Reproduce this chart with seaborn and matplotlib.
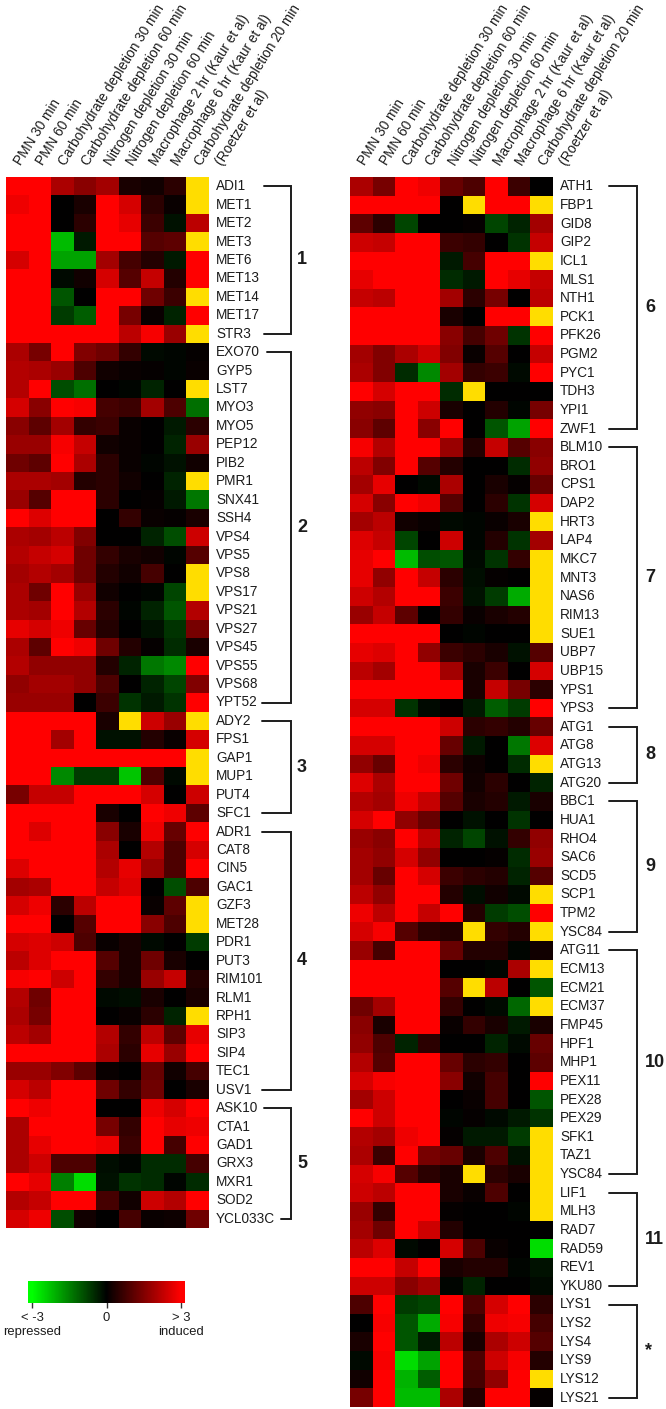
import numpy as np
import seaborn as sns
import matplotlib.pyplot as plt
from matplotlib.colors import LinearSegmentedColormap
from matplotlib.transforms import ScaledTranslation, blended_transform_factory

sns.set_theme(style='white')
plt.rcParams['font.family'] = ['Liberation Sans', 'DejaVu Sans']

W, H = 666, 1409
Y = np.nan  # yellow cells, no data

conditions = ['PMN 30 min', 'PMN 60 min', 'Carbohydrate depletion 30 min', 'Carbohydrate depletion 60 min',
              'Nitrogen depletion 30 min', 'Nitrogen depletion 60 min', 'Macrophage 2 hr (Kaur et al)',
              'Macrophage 6 hr (Kaur et al)', 'Carbohydrate depletion 20 min']
last_condition_note = '(Roetzer et al)'

genes_left = ['ADI1', 'MET1', 'MET2', 'MET3', 'MET6', 'MET13', 'MET14', 'MET17', 'STR3',
              'EXO70', 'GYP5', 'LST7', 'MYO3', 'MYO5', 'PEP12', 'PIB2', 'PMR1', 'SNX41', 'SSH4',
              'VPS4', 'VPS5', 'VPS8', 'VPS17', 'VPS21', 'VPS27', 'VPS45', 'VPS55', 'VPS68', 'YPT52',
              'ADY2', 'FPS1', 'GAP1', 'MUP1', 'PUT4', 'SFC1',
              'ADR1', 'CAT8', 'CIN5', 'GAC1', 'GZF3', 'MET28', 'PDR1', 'PUT3', 'RIM101', 'RLM1', 'RPH1',
              'SIP3', 'SIP4', 'TEC1', 'USV1',
              'ASK10', 'CTA1', 'GAD1', 'GRX3', 'MXR1', 'SOD2', 'YCL033C']

values_left = [
    [3, 3, 2, 1.6, 1.9, 0.3, 0.2, 0.5, Y],
    [2.8, 3, 0, 0.3, 3, 2.5, 0.5, 0.1, Y],
    [3, 3, 0, 0.5, 3, 2.7, 0.7, -0.2, 2.2],
    [3, 3, -2.2, -0.3, 3, 3, 1.0, 1.1, Y],
    [2.5, 3, -1.9, -1.9, 1.9, 0.8, 0.4, -0.3, 3],
    [3, 3, -0.1, 0.2, 2.5, 1, 2.3, 0.4, 3],
    [3, 3, -1, 0, 3, 3, 1.3, 0.7, Y],
    [3, 3, -0.7, -1.1, 3, 1.4, 0.1, -0.4, 3],
    [3, 3, 3, 3, 3, 2.2, 2.9, 1.8, Y],
    [2, 1.4, 3, 1.5, 1.3, 0.6, -0.1, -0.05, 0.05],
    [2.1, 2.0, 1.8, 0.9, 0.2, 0.1, 0.05, -0.05, 0.1],
    [2.1, 3, -0.9, -1.3, 0, -0.05, -0.4, 0, Y],
    [2.5, 1.6, 3, 2.9, 0.8, 0.7, 1.9, 0.9, -1.3],
    [1.6, 1.1, 1.9, 0.6, 0.7, 0.1, 0, -0.3, 0.5],
    [1.8, 1.8, 2.9, 2.3, 0.2, 0.1, 0, -0.4, 1.8],
    [1.3, 1.1, 3, 2.0, 0.5, 0.1, -0.05, -0.2, 0.2],
    [2, 2, 1.9, 0.4, 0.5, 0.2, 0, -0.4, Y],
    [1.8, 1, 3, 3, 0.5, 0, 0.05, -0.3, -1.4],
    [3, 2.6, 3, 3, 0, 0.6, 0.1, 0.05, 0.3],
    [2, 1.9, 2.2, 1.5, 0, 0, -0.4, -0.9, 2.4],
    [2.1, 2.3, 2.5, 1.3, 0.6, 0.3, 0.2, -0.05, 1],
    [1.9, 2.1, 1.9, 1.3, 0.4, 0.2, 0.8, 0, Y],
    [2, 1.3, 3, 1.8, 0.2, 0, -0.05, -0.8, Y],
    [2, 1.9, 3, 2.1, 0.5, -0.05, -0.4, -1, 2.1],
    [2.7, 2.5, 2.8, 1.2, 0.4, 0, -0.2, -0.6, 1.4],
    [2, 1.1, 3, 2.8, 1.3, 0.4, 0.05, -0.5, 0.3],
    [2.1, 1.7, 1.7, 1.7, 0.4, -0.4, -1.4, -1.6, 3],
    [1.7, 1.9, 1.9, 1.7, 0.9, 0, -0.4, -0.8, 1.5],
    [1.8, 1.8, 1.8, 0, 0.7, -0.6, -0.3, -0.6, 3],
    [3, 3, 3, 3, 0.3, Y, 2.4, 1.8, Y],
    [3, 3, 1.9, 3, -0.2, -0.2, 0.4, 0.1, 2.5],
    [3, 3, 3, 3, 3, 3, 3, 3, Y],
    [3, 3, -1.6, -0.7, -0.7, -2.3, 0.9, -0.1, Y],
    [1.4, 2.3, 2.3, 3, 3, 3, 2.5, 0, 2.4],
    [3, 3, 3, 3, 0.3, 0, 3, 2.8, 1.1],
    [3, 2.6, 3, 3, 1.6, 0.3, 2.8, 1.2, 3],
    [3, 3, 3, 3, 2, 0, 2.1, 0.9, 2.5],
    [2.6, 3, 3, 3, 2.1, 2.7, 1.8, 0.9, 3],
    [1.9, 2.0, 3, 3, 2.3, 2.6, 0, -0.9, 0.9],
    [2.5, 2.8, 0.5, 2.2, 3, 3, 0.1, 1.1, Y],
    [3, 3, 0, 1, 3, 3, 1.6, 0.9, Y],
    [2.5, 2.6, 2.4, 0.9, 0.1, 0.3, -0.1, 0, -0.7],
    [2.2, 2.6, 3, 3, 1, 0.3, 1.3, 0.3, 0],
    [2.9, 3, 2.4, 3, 0.6, 0.3, 1.8, 2.3, 0.4],
    [2.1, 1.3, 3, 3, -0.1, -0.15, 0.3, 0, 0.3],
    [2, 1.4, 3, 3, 0, 0.1, 0.5, -0.4, Y],
    [2.2, 1.9, 3, 3, 2.1, 0.6, 2.2, 1.1, 2.7],
    [3, 3, 3, 3, 2, 0.5, 2.7, 1.8, 3],
    [1.8, 1.8, 1.5, 1.1, 0.1, 0, 1.2, 0.2, 0.8],
    [2.5, 2.2, 3, 3, 1.3, 0.6, 1.3, 0, 0.3],
    [3, 2.8, 3, 3, 0, 0, 2.8, 2.5, 3],
    [2, 3, 3, 3, 1.4, 0.6, 3, 2.7, 2.8],
    [2, 2.7, 3, 3, 2.8, 0.7, 3, 0.8, 3],
    [2, 2.4, 0.9, 0.9, -0.15, -0.05, -0.5, -0.5, 0.8],
    [3, 2.7, -1.5, -2.6, -0.2, -0.6, -0.5, -0.05, -0.5],
    [2.1, 2.3, 3, 3, 0.8, 0.2, 2.4, 2.1, 3],
    [2.5, 2.8, -0.9, 0.2, 0, 0.8, 0.1, 0.15, 1.3],
]

genes_right = ['ATH1', 'FBP1', 'GID8', 'GIP2', 'ICL1', 'MLS1', 'NTH1', 'PCK1', 'PFK26', 'PGM2', 'PYC1', 'TDH3',
               'YPI1', 'ZWF1',
               'BLM10', 'BRO1', 'CPS1', 'DAP2', 'HRT3', 'LAP4', 'MKC7', 'MNT3', 'NAS6', 'RIM13', 'SUE1', 'UBP7',
               'UBP15', 'YPS1', 'YPS3',
               'ATG1', 'ATG8', 'ATG13', 'ATG20',
               'BBC1', 'HUA1', 'RHO4', 'SAC6', 'SCD5', 'SCP1', 'TPM2', 'YSC84',
               'ATG11', 'ECM13', 'ECM21', 'ECM37', 'FMP45', 'HPF1', 'MHP1', 'PEX11', 'PEX28', 'PEX29', 'SFK1',
               'TAZ1', 'YSC84',
               'LIF1', 'MLH3', 'RAD7', 'RAD59', 'REV1', 'YKU80',
               'LYS1', 'LYS2', 'LYS4', 'LYS9', 'LYS12', 'LYS21']

values_right = [
    [2, 1.4, 3, 2.8, 1.2, 0.9, 3, 0.7, 0],
    [3, 3, 3, 3, 0, Y, 3, 3, Y],
    [1.1, 0.5, -0.8, 0, 0, 0.05, -0.8, -0.4, 1.9],
    [2.4, 2.3, 3, 3, 0.7, 0.6, 0, -0.6, 2.3],
    [3, 3, 3, 3, -0.3, 0.8, 3, 3, Y],
    [2.7, 3, 3, 3, -0.5, -0.3, 3, 2.7, 2.3],
    [2.3, 2.2, 3, 3, 1.9, 0.5, 1.4, 0, 2.2],
    [3, 3, 3, 3, 0.3, 0, 3, 3, Y],
    [3, 3, 3, 3, 1.6, 0.8, 1.3, -0.6, 3],
    [1.9, 1.5, 2, 2.4, 1.5, 0.1, 1, 0, 2.3],
    [2, 1.5, -0.5, -1.6, 1.9, 0.6, 0.7, -0.1, 3],
    [3, 2.5, 3, 3, -0.5, Y, 0, 0, 0],
    [1.7, 1.6, 3, 2.4, 0.3, 0, 0.4, -0.05, 1.4],
    [1.6, 1.1, 3, 1.6, 3, 0, -1, -1.9, 3],
    [2.9, 2.1, 3, 3, 1.8, 0.4, 2.3, 1.0, 1.6],
    [2.2, 1.5, 3, 1, 0.4, 0, 0, -0.5, 1.7],
    [1.9, 2.7, 0, -0.1, 2, 0, 0.3, 0.05, 1.2],
    [2.5, 1.6, 3, 2.8, 1, 0, 0.5, -0.6, 2.5],
    [1.9, 2.2, 0.2, 0.1, -0.1, -0.05, 0.1, 0.3, Y],
    [2.6, 2.3, -0.8, 0, 2.4, -0.05, 0.4, -0.6, 1.9],
    [2.7, 3, -2.2, -0.9, -1, -0.1, -0.6, 0.6, Y],
    [2.7, 1.7, 3, 2.3, 0.5, -0.15, 0.05, 0.02, Y],
    [2.4, 2.1, 3, 3, 0.7, -0.2, -0.7, -2, Y],
    [1.8, 2.3, 1.1, 0, 0.6, 0.1, 0.3, 0.4, Y],
    [3, 3, 3, 3, 0, -0.05, 0, 0, Y],
    [2.7, 2.6, 3, 1.7, 0.7, 0.5, 0.3, -0.2, 1.0],
    [2.2, 1.9, 3, 3, 1.9, 0.3, 0.7, 0, 2.5],
    [3, 3, 3, 3, 3, 0.3, 2.3, 1.4, 0.5],
    [2.5, 2.5, -0.6, -0.1, 0, -0.3, -1.1, -0.7, 3],
    [3, 3, 3, 3, 2.4, 0.5, 0.6, 0.4, 1.2],
    [2.5, 2.5, 3, 3, 1.2, -0.3, 0, -1.4, 2.6],
    [1.7, 1.2, 3, 2.8, 0.5, 0.15, 0, -0.5, Y],
    [2.6, 2.0, 3, 3, 1.3, 0.2, 0.5, 0, -0.4],
    [2.1, 1.9, 2.8, 2.3, 1, 0.3, 0.4, -0.3, 0.3],
    [2.5, 3, 1.7, 1.2, 0, -0.2, 0, -0.6, 0],
    [1.8, 1.6, 3, 2.2, -0.4, -0.8, -0.2, 0.6, 1.7],
    [1.9, 1.7, 2.5, 1.7, 0, 0, 0.05, -0.5, 1.8],
    [1.9, 1.2, 3, 2.5, 0.7, 0.5, 0.4, -0.4, 1.0],
    [2.2, 1.7, 3, 3, 0.4, -0.15, 0.2, -0.1, Y],
    [2.8, 2.2, 3, 2.3, 3, 0.4, -0.7, -0.9, 3],
    [2.5, 2.9, 1.0, 0.5, 0.4, Y, 0.6, 0.4, Y],
    [1.8, 0.8, 3, 3, 1.2, 0.4, 0.4, -0.05, 0.2],
    [3, 3, 3, 3, 0, 0, -0.05, 2, Y],
    [3, 3, 3, 3, 1, Y, 2.2, 0, -1],
    [1.3, 1.9, 3, 3, 0.6, 0, -0.1, -1.2, Y],
    [1.6, 0.3, 3, 3, 0.1, 0.6, 0.3, -0.3, 0.3],
    [1.7, 0.9, -0.4, 0.5, 0, 0, -0.4, -0.1, 1.2],
    [2.1, 1, 3, 3, 1.2, 0.5, 0.6, 0, 1.1],
    [2.5, 2.9, 3, 3, 1.6, 0.2, 0.8, 0, 3],
    [1.9, 2.4, 3, 3, 0, 0.1, 0.8, 0, -1],
    [3, 2.4, 3, 3, -0.05, 0.05, -0.1, -0.3, -0.6],
    [2.1, 1.9, 2.8, 3, 0.05, -0.3, -0.3, -0.7, Y],
    [2, 0.7, 3, 1.4, 1.2, 0.3, 0.9, -0.2, Y],
    [2.5, 2.9, 1.0, 0.5, 0.3, Y, 0.5, 0.3, Y],
    [2.4, 2.2, 3, 3, 0.3, 0.1, 0.9, 0, Y],
    [1.8, 0.6, 3, 3, 0.05, 0, 0, -0.05, Y],
    [1.9, 1.3, 3, 2.4, 0.4, 0, 0, 0, 0],
    [2.2, 2.6, -0.1, 0, 2.5, 0.9, 0.1, 0, -2.6],
    [3, 3, 2.3, 3, 0.3, 0.4, 0.4, -0.05, -0.2],
    [2.4, 2.4, 1.6, 1.9, -0.05, -0.4, 0, 0, -0.1],
    [0.9, 3, -0.7, -0.8, 3, 0.9, 2.5, 3, 0.5],
    [0, 2.9, -1, -2, 2.9, 0.6, 2.8, 2.9, 0.8],
    [0.3, 3, -1, -0.3, 2.2, 0.3, 2, 2.4, 1.0],
    [-0.1, 2.9, -2.6, -1.9, 3, 0.9, 2.4, 2.9, 0.4],
    [0.2, 3, -2.1, -1.1, 3, 0.8, 1.7, 3, Y],
    [1.4, 3, -2.2, -2.2, 2, 0.4, 3, 3, 0.05],
]

# cluster name and how many genes it holds, top to bottom
clusters_left = [('1', 9), ('2', 20), ('3', 6), ('4', 15), ('5', 7)]
clusters_right = [('6', 14), ('7', 15), ('8', 4), ('9', 8), ('10', 13), ('11', 6), ('*', 6)]

cmap = LinearSegmentedColormap.from_list('gbr', ['#00FF00', '#000000', '#FF0000'])
ink = '#1c1c1c'


def px_axes(fig, x0, y0, x1, y1):
    return fig.add_axes([x0 / W, 1 - y1 / H, (x1 - x0) / W, (y1 - y0) / H])


def draw_panel(ax, values, genes, clusters, vline, starts, num_x, cbar_ax=None):
    kws = {}
    if cbar_ax is not None:
        kws = {'cbar_ax': cbar_ax,
               'cbar_kws': {'orientation': 'horizontal', 'extend': 'both', 'extendrect': True,
                            'extendfrac': 0.027, 'ticks': [-3, 0, 3]}}
    sns.heatmap(np.array(values), ax=ax, cmap=cmap, vmin=-3, vmax=3, cbar=cbar_ax is not None,
                xticklabels=conditions, yticklabels=genes, linewidths=0, **kws)
    ax.set_facecolor('#FFDD00')

    ax.xaxis.tick_top()
    ax.yaxis.tick_right()
    ax.tick_params(axis='both', length=0)
    ax.tick_params(axis='y', pad=5, labelsize=9.8, labelcolor=ink)
    plt.setp(ax.get_yticklabels(), rotation=0, va='center')
    ax.tick_params(axis='x', pad=6.5, labelsize=9.8, labelcolor=ink)
    shift = ScaledTranslation(6 / 100, 0, fig.dpi_scale_trans)
    for label in ax.get_xticklabels():
        label.set_rotation(58)
        label.set_ha('left')
        label.set_va('bottom')
        label.set_rotation_mode('anchor')
        label.set_transform(label.get_transform() + shift)

    # second line of the last condition, sits below and right of the first
    ax.annotate(last_condition_note, xy=(8.5, 1), xycoords=ax.get_xaxis_transform(),
                xytext=(27, 9), textcoords='offset pixels', rotation=58, rotation_mode='anchor',
                ha='left', va='bottom', fontsize=9.8, color=ink, annotation_clip=False)

    # brackets on the right of the gene names
    trans = blended_transform_factory(fig.transFigure, ax.transData)
    row = 0
    for k, (name, n) in enumerate(clusters):
        top, bottom = row + 0.5, row + n - 0.5
        sx_top, sx_bot = starts[k]
        ax.plot([sx_top / W, vline / W, vline / W, sx_bot / W], [top, top, bottom, bottom], color=ink,
                lw=1.4, transform=trans, clip_on=False, solid_joinstyle='miter')
        ax.text(num_x / W, (top + bottom) / 2, name, transform=trans, fontsize=13, fontweight='bold',
                color=ink, ha='left', va='center')
        row += n


fig = plt.figure(figsize=(W / 100, H / 100), dpi=100)
ax_left = px_axes(fig, 6, 177, 209, 1228)
ax_right = px_axes(fig, 350, 177, 553, 1407)
ax_bar = px_axes(fig, 28, 1281, 185, 1303)

draw_panel(ax_left, values_left, genes_left, clusters_left, 291,
           [(264, 264), (267, 262), (262, 262), (262, 262), (264, 281)], 297, cbar_ax=ax_bar)
draw_panel(ax_right, values_right, genes_right, clusters_right, 637, [(609, 609)] * 7, 645)

# colour key
cbar = ax_left.collections[0].colorbar
cbar.outline.set_visible(False)
cbar.ax.set_xticklabels(['< -3\nrepressed', '0', '> 3\ninduced'], linespacing=1.25)
cbar.ax.tick_params(axis='x', length=7, width=1, direction='inout', color='#333333', labelsize=9.4,
                    labelcolor=ink, pad=3)

fig.savefig('out.png', dpi=100)
